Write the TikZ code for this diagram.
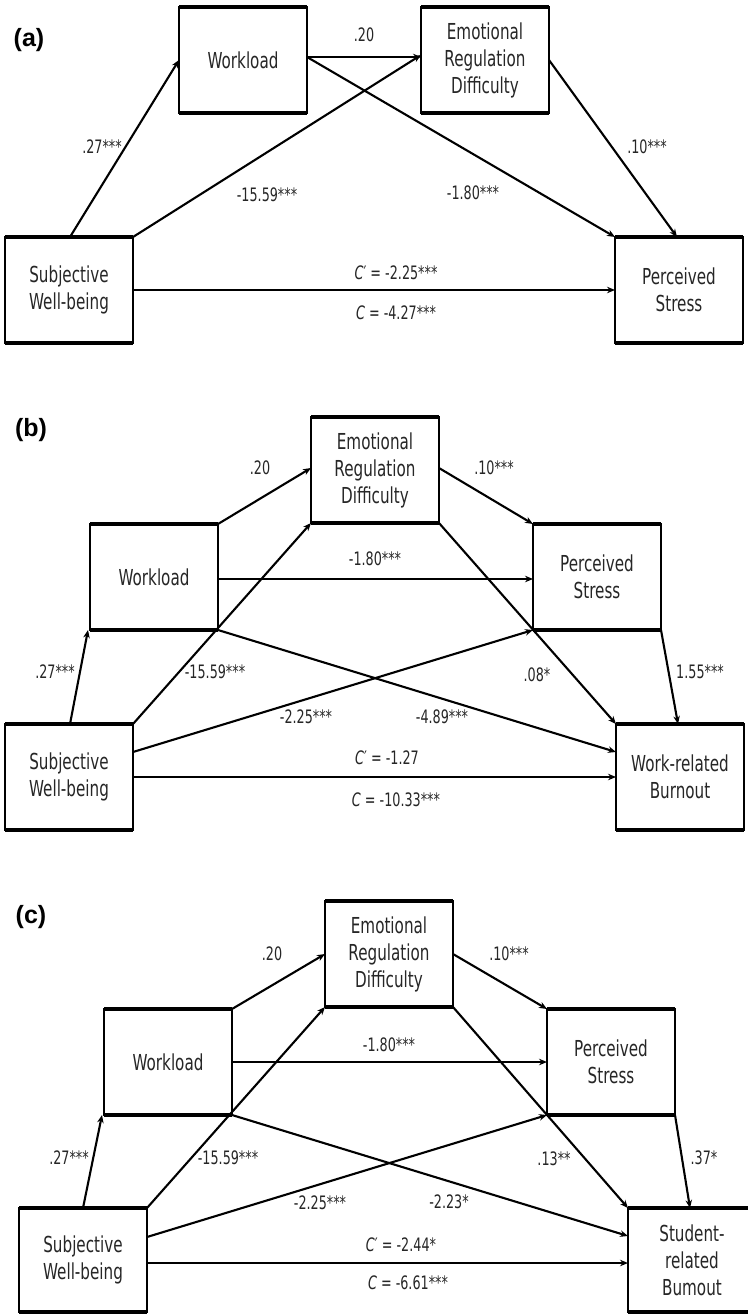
\documentclass[tikz,border=0pt]{standalone}
\usepackage{fontspec}
\setmainfont{DejaVu Sans}[FakeStretch=0.69]
\newfontfamily\panelfont{Liberation Sans}
\usetikzlibrary{arrows.meta}
\definecolor{txt}{HTML}{262626}
\newcommand\tbedges[1]{\draw[line width=3.6pt] (#1.north west)--(#1.north east) (#1.south west)--(#1.south east);}
\tikzset{
  box/.style={draw, line width=2.2pt, minimum width=128pt, minimum height=106pt, inner sep=0pt, outer sep=0pt,
    font=\fontsize{22}{27}\selectfont, align=center, text=txt},
  lab/.style={font=\fontsize{18.5}{20}\selectfont, text=txt, inner sep=0pt},
  arr/.style={-{Stealth[length=8pt,width=6.5pt]}, line width=2.1pt},
  panel/.style={font=\panelfont\bfseries\fontsize{25}{28}\selectfont, inner sep=0pt}
}
\begin{document}
\begin{tikzpicture}[x=1pt,y=-1pt]
\useasboundingbox (0,0) rectangle (747,1314);
% ---------------- (a)
\node[panel] (pa) at (29,40) {(a)};
\node[box] (wlA) at (243,60) {Workload};
\node[box] (erdA) at (485,60) {Emotional\\Regulation\\Difficulty};
\node[box] (swbA) at (69,290) {Subjective\\Well-being};
\node[box] (psA) at (679,290) {Perceived\\Stress};
\foreach \n in {wlA,erdA,swbA,psA} {\tbedges{\n}}
\draw[arr] ([xshift=1pt]swbA.north) -- (wlA.west);
\draw[arr] ([yshift=3pt]wlA.east) -- ([yshift=3pt]erdA.west);
\draw[arr] (swbA.north east) -- ([yshift=5pt]erdA.west);
\draw[arr] ([yshift=3pt]wlA.east) -- (psA.north west);
\draw[arr] (erdA.east) -- ([xshift=-2pt]psA.north);
\draw[arr] (swbA.east) -- (psA.west);
\node[lab] (la1) at (102,147) {.27***};
\node[lab] (la2) at (364,35) {.20};
\node[lab] (la3) at (267,195) {-15.59***};
\node[lab] (la4) at (473,193) {-1.80***};
\node[lab] (la5) at (647,147) {.10***};
\node[lab] (la6) at (396,273) {\textit{C}′ = -2.25***};
\node[lab] (la7) at (396,313) {\textit{C} = -4.27***};
% ---------------- (b)
\node[panel] (pb) at (31,430) {(b)};
\node[box] (erdB) at (375,470) {Emotional\\Regulation\\Difficulty};
\node[box] (wlB) at (154,577) {Workload};
\node[box] (psB) at (597,577) {Perceived\\Stress};
\node[box] (swbB) at (69,777) {Subjective\\Well-being};
\node[box] (wrbB) at (680,777) {Work-related\\Burnout};
\foreach \n in {erdB,wlB,psB,swbB,wrbB} {\tbedges{\n}}
\draw[arr] ([xshift=1pt]swbB.north) -- ([xshift=-2pt]wlB.south west);
\draw[arr] (wlB.north east) -- ([yshift=2pt]erdB.west);
\draw[arr] (swbB.north east) -- (erdB.south west);
\draw[arr] ([yshift=2pt]erdB.east) -- (psB.north west);
\draw[arr] ([yshift=-2pt]wlB.east) -- ([yshift=-2pt]psB.west);
\draw[arr] (wlB.south east) -- ([yshift=25pt]wrbB.west);
\draw[arr] (erdB.south east) -- (wrbB.north west);
\draw[arr] ([yshift=25pt]swbB.east) -- (psB.south west);
\draw[arr] (psB.south east) -- ([xshift=-2pt]wrbB.north);
\draw[arr] (swbB.east) -- (wrbB.west);
\node[lab] (lb1) at (55,672) {.27***};
\node[lab] (lb2) at (260,468) {.20};
\node[lab] (lb3) at (215,672) {-15.59***};
\node[lab] (lb4) at (494,468) {.10***};
\node[lab] (lb5) at (375,559) {-1.80***};
\node[lab] (lb6) at (442,717) {-4.89***};
\node[lab] (lb7) at (537,675) {.08*};
\node[lab] (lb8) at (306,717) {-2.25***};
\node[lab] (lb9) at (700,672) {1.55***};
\node[lab] (lb10) at (387,758) {\textit{C}′ = -1.27};
\node[lab] (lb11) at (396,800) {\textit{C} = -10.33***};
% ---------------- (c)
\node[panel] (pc) at (31,917) {(c)};
\node[box] (erdC) at (389,954) {Emotional\\Regulation\\Difficulty};
\node[box] (wlC) at (168,1062) {Workload};
\node[box] (psC) at (611,1062) {Perceived\\Stress};
\node[box, minimum height=104pt] (swbC) at (83,1260) {Subjective\\Well-being};
\node[box, minimum height=104pt] (srbC) at (692,1260) {Student-\\related\\Bumout};
\foreach \n in {erdC,wlC,psC,swbC,srbC} {\tbedges{\n}}
\draw[arr] (swbC.north) -- ([xshift=-2pt]wlC.south west);
\draw[arr] (wlC.north east) -- (erdC.west);
\draw[arr] (swbC.north east) -- (erdC.south west);
\draw[arr] (erdC.east) -- (psC.north west);
\draw[arr] (wlC.east) -- (psC.west);
\draw[arr] (wlC.south east) -- ([yshift=24pt]srbC.west);
\draw[arr] (erdC.south east) -- (srbC.north west);
\draw[arr] ([yshift=23pt]swbC.east) -- (psC.south west);
\draw[arr] (psC.south east) -- ([xshift=-2pt]srbC.north);
\draw[arr] ([yshift=-3pt]swbC.east) -- ([yshift=-3pt]srbC.west);
\node[lab] (lc1) at (69,1158) {.27***};
\node[lab] (lc2) at (272,954) {.20};
\node[lab] (lc3) at (228,1158) {-15.59***};
\node[lab] (lc4) at (509,954) {.10***};
\node[lab] (lc5) at (389,1045) {-1.80***};
\node[lab] (lc6) at (449,1202) {-2.23*};
\node[lab] (lc7) at (554,1159) {.13**};
\node[lab] (lc8) at (320,1203) {-2.25***};
\node[lab] (lc9) at (704,1158) {.37*};
\node[lab] (lc10) at (401,1245) {\textit{C}′ = -2.44*};
\node[lab] (lc11) at (408,1283) {\textit{C} = -6.61***};
\end{tikzpicture}
\end{document}
